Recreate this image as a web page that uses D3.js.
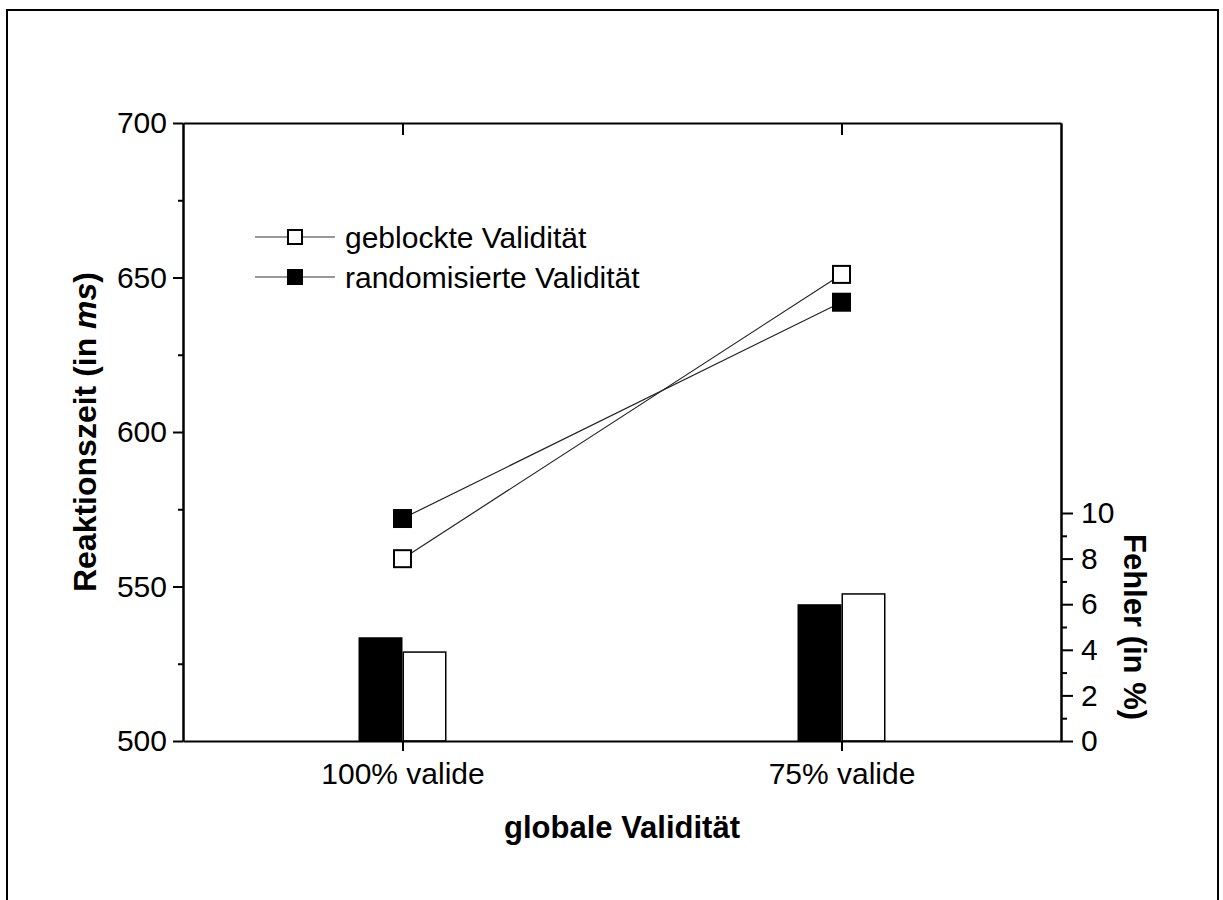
<!DOCTYPE html>
<html>
<head>
<meta charset="utf-8">
<script src="https://cdn.jsdelivr.net/npm/d3@7"></script>
<style>
  html, body { margin: 0; padding: 0; background: #fff; }
  svg { display: block; }
  text { font-family: "Liberation Sans", Arial, sans-serif; fill: #000; }
</style>
</head>
<body>
<svg id="chart" width="1223" height="900"></svg>
<script>
// Conditions on the x axis
const categories = ["100% valide", "75% valide"];

// Reaction times (ms), left axis
const rtBlocked = [559, 651];
const rtRandom  = [572, 642];

// Error rates (%), right axis
const errRandom  = [4.55, 6.0];
const errBlocked = [3.9, 6.45];

// Tick values
const rtTicks = [500, 550, 600, 650, 700];
const rtMinorTicks = [525, 575, 625, 675];
const errTicks = [0, 2, 4, 6, 8, 10];
const errMinorTicks = [1, 3, 5, 7, 9];

const seriesNames = ["geblockte Validität", "randomisierte Validität"];

const svg = d3.select("#chart");

// page frame
svg.append("rect")
  .attr("x", 7).attr("y", 10).attr("width", 1211).attr("height", 910)
  .attr("fill", "none").attr("stroke", "#000").attr("stroke-width", 2);

const plot = { left: 183, top: 123, width: 878, height: 618 };
const g = svg.append("g").attr("transform", `translate(${plot.left},${plot.top})`);

const x = d3.scaleLinear().domain([0.5, categories.length + 0.5]).range([0, plot.width]);
const yL = d3.scaleLinear().domain([500, 700]).range([plot.height, 0]);
const errPerPx = 10 / 228;
const yR = d3.scaleLinear().domain([0, plot.height * errPerPx]).range([plot.height, 0]);

const FONT = 30;
const TITLE_FONT = 31;

function styleAxis(sel) {
  sel.selectAll("path.domain").attr("stroke", "#000").attr("stroke-width", 2);
  sel.selectAll(".tick line").attr("stroke", "#000").attr("stroke-width", 2);
  sel.selectAll(".tick text")
    .attr("font-family", "Liberation Sans, Arial, sans-serif")
    .attr("font-size", FONT).attr("fill", "#000");
}

// bars (error rates)
const barW = 44;
categories.forEach((c, i) => {
  const cx = x(i + 1);
  g.append("rect")
    .attr("x", cx - barW).attr("y", yR(errRandom[i]))
    .attr("width", barW).attr("height", yR(0) - yR(errRandom[i]))
    .attr("fill", "#000");
  g.append("rect")
    .attr("x", cx + 0.75).attr("y", yR(errBlocked[i]))
    .attr("width", barW - 1.5).attr("height", yR(0) - yR(errBlocked[i]))
    .attr("fill", "#fff").attr("stroke", "#000").attr("stroke-width", 1.5);
});

// left axis
const axL = g.append("g").call(d3.axisLeft(yL).tickValues(rtTicks).tickSize(10).tickSizeOuter(0).tickPadding(6));
styleAxis(axL);
const axLm = g.append("g").call(d3.axisLeft(yL).tickValues(rtMinorTicks).tickSize(5).tickSizeOuter(0).tickFormat(""));
styleAxis(axLm);

// top axis (inward ticks)
const axT = g.append("g").call(d3.axisTop(x).tickValues([1, 2]).tickSize(-12).tickSizeOuter(0).tickFormat(""));
styleAxis(axT);

// bottom axis
const axB = g.append("g").attr("transform", `translate(0,${plot.height})`)
  .call(d3.axisBottom(x).tickValues([1, 2]).tickSize(10).tickSizeOuter(0)
    .tickPadding(12).tickFormat(d => categories[d - 1]));
styleAxis(axB);

// right axis (errors)
const axR = g.append("g").attr("transform", `translate(${plot.width},0)`)
  .call(d3.axisRight(yR).tickValues(errTicks).tickSize(12).tickSizeOuter(0).tickPadding(8));
styleAxis(axR);
const axRm = g.append("g").attr("transform", `translate(${plot.width},0)`)
  .call(d3.axisRight(yR).tickValues(errMinorTicks).tickSize(6).tickSizeOuter(0).tickFormat(""));
styleAxis(axRm);

// reaction time lines
const line = d3.line().x((d, i) => x(i + 1)).y(d => yL(d));
[rtBlocked, rtRandom].forEach(s => {
  g.append("path").datum(s).attr("d", line)
    .attr("fill", "none").attr("stroke", "#222").attr("stroke-width", 1.2);
});

const M = 19;
rtBlocked.forEach((v, i) => {
  g.append("rect")
    .attr("x", x(i + 1) - (M - 2) / 2).attr("y", yL(v) - (M - 2) / 2)
    .attr("width", M - 2).attr("height", M - 2)
    .attr("fill", "#fff").attr("stroke", "#000").attr("stroke-width", 2);
});
rtRandom.forEach((v, i) => {
  g.append("rect")
    .attr("x", x(i + 1) - M / 2).attr("y", yL(v) - M / 2)
    .attr("width", M).attr("height", M).attr("fill", "#000");
});

// legend
const legend = svg.append("g");
const LM = 16;
seriesNames.forEach((name, i) => {
  const ly = 237 + i * 40;
  legend.append("line").attr("x1", 255).attr("x2", 335).attr("y1", ly).attr("y2", ly)
    .attr("stroke", "#333").attr("stroke-width", 1.2);
  if (i === 0) {
    legend.append("rect").attr("x", 295 - (LM - 2) / 2).attr("y", ly - (LM - 2) / 2)
      .attr("width", LM - 2).attr("height", LM - 2)
      .attr("fill", "#fff").attr("stroke", "#000").attr("stroke-width", 2);
  } else {
    legend.append("rect").attr("x", 295 - LM / 2).attr("y", ly - LM / 2)
      .attr("width", LM).attr("height", LM).attr("fill", "#000");
  }
  legend.append("text").attr("x", 345).attr("y", ly + 10.5)
    .attr("font-size", FONT).text(name);
});

// axis titles
svg.append("text")
  .attr("x", plot.left + plot.width / 2).attr("y", 838)
  .attr("text-anchor", "middle").attr("font-size", TITLE_FONT).attr("font-weight", "bold")
  .text("globale Validität");

const tl = svg.append("text")
  .attr("transform", `translate(96,${plot.top + plot.height / 2}) rotate(-90)`)
  .attr("text-anchor", "middle").attr("font-size", 32).attr("font-weight", "bold");
tl.append("tspan").text("Reaktionszeit (in ");
tl.append("tspan").attr("font-style", "italic").text("ms");
tl.append("tspan").text(")");

svg.append("text")
  .attr("transform", `translate(1124,${(yR(0) + yR(10)) / 2 + plot.top}) rotate(90)`)
  .attr("text-anchor", "middle").attr("font-size", TITLE_FONT).attr("font-weight", "bold")
  .text("Fehler (in %)");
</script>
</body>
</html>
